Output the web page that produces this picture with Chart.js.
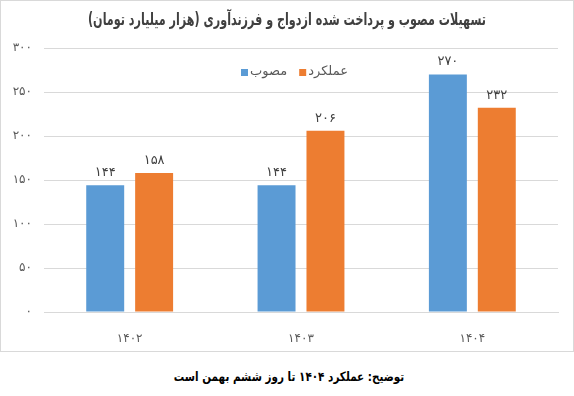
<!DOCTYPE html>
<html lang="fa">
<head>
<meta charset="utf-8">
<script src="https://cdn.jsdelivr.net/npm/chart.js@4.4.0/dist/chart.umd.min.js"></script>
<style>
  body { margin: 0; background: #fff; }
  #wrap { position: relative; width: 574px; height: 352px; }
  #caption {
    width: 574px; text-align: center; direction: rtl;
    margin-top: 15px;
  }
  #caption span {
    display: inline-block; transform: scaleX(0.8); margin-left: 4px;
    font: bold 13px "DejaVu Sans", sans-serif; color: #000;
  }
</style>
</head>
<body>
<div id="wrap"><canvas id="chart"></canvas></div>
<div id="caption"><span>توضیح: عملکرد ۱۴۰۴ تا روز ششم بهمن است</span></div>
<script>
// داده‌ها
const years = ['۱۴۰۲', '۱۴۰۳', '۱۴۰۴'];
const approved = [144, 144, 270];   // مصوب
const paid = [158, 206, 232];       // عملکرد
const seriesNames = ['مصوب', 'عملکرد'];
const seriesColors = ['#5B9BD5', '#ED7D31'];
const yTicks = [0, 50, 100, 150, 200, 250, 300];
const chartTitle = 'تسهیلات مصوب و پرداخت شده ازدواج و فرزندآوری (هزار میلیارد تومان)';

const faDigits = n => String(n).replace(/\d/g, d => '۰۱۲۳۴۵۶۷۸۹'[d]);
const FONT = '"DejaVu Sans", sans-serif';

// عنوان، راهنما، برچسب مقادیر و قاب
const decor = {
    id: 'decor',
    afterDraw(chart) {
        const ctx = chart.ctx;
        ctx.save();
        // قاب
        ctx.strokeStyle = '#d9d9d9';
        ctx.lineWidth = 1;
        ctx.strokeRect(0.5, 0.5, chart.width - 1, chart.height - 1);
        // عنوان
        ctx.fillStyle = '#404040';
        ctx.font = 'bold 17px ' + FONT;
        ctx.textAlign = 'center';
        ctx.textBaseline = 'middle';
        ctx.direction = 'rtl';
        ctx.fillText(chartTitle, 287, 21, 398);
        // برچسب مقادیر
        ctx.font = '13px ' + FONT;
        ctx.fillStyle = '#404040';
        ctx.textBaseline = 'bottom';
        chart.data.datasets.forEach((ds, i) => {
            chart.getDatasetMeta(i).data.forEach((bar, j) => {
                ctx.fillText(faDigits(ds.data[j]), bar.x, bar.y - 6);
            });
        });
        // راهنما
        ctx.font = '13px ' + FONT;
        ctx.textAlign = 'left';
        ctx.textBaseline = 'middle';
        ctx.direction = 'ltr';
        let x = 241;
        const y = 72;
        seriesNames.forEach((name, i) => {
            ctx.fillStyle = seriesColors[i];
            ctx.fillRect(x, y - 3, 7, 7);
            x += 9;
            ctx.fillStyle = '#595959';
            ctx.fillText(name, x, y);
            x += ctx.measureText(name).width + 12;
        });
        ctx.restore();
    }
};

new Chart(document.getElementById('chart'), {
    type: 'bar',
    data: {
        labels: years,
        datasets: [
            { label: seriesNames[0], data: approved, backgroundColor: seriesColors[0] },
            { label: seriesNames[1], data: paid, backgroundColor: seriesColors[1] }
        ]
    },
    options: {
        responsive: true,
        maintainAspectRatio: false,
        animation: false,
        categoryPercentage: 0.571,
        barPercentage: 0.776,
        layout: { padding: { left: 0, right: 16, top: 48, bottom: 0 } },
        plugins: {
            legend: { display: false },
            title: { display: false },
            tooltip: { enabled: false }
        },
        scales: {
            x: {
                grid: { display: false },
                border: { color: '#d9d9d9' },
                ticks: { color: '#595959', font: { family: FONT, size: 12 }, padding: 12 },
                afterFit: s => { s.height = 40; }
            },
            y: {
                min: 0, max: 300,
                afterBuildTicks: s => { s.ticks = yTicks.map(v => ({ value: v })); },
                grid: { color: '#d9d9d9', drawTicks: false },
                border: { display: false },
                ticks: {
                    color: '#595959', font: { family: FONT, size: 12 }, padding: 12,
                    callback: v => faDigits(v)
                },
                afterFit: s => { s.width = 44; }
            }
        }
    },
    plugins: [decor]
});
</script>
</body>
</html>
